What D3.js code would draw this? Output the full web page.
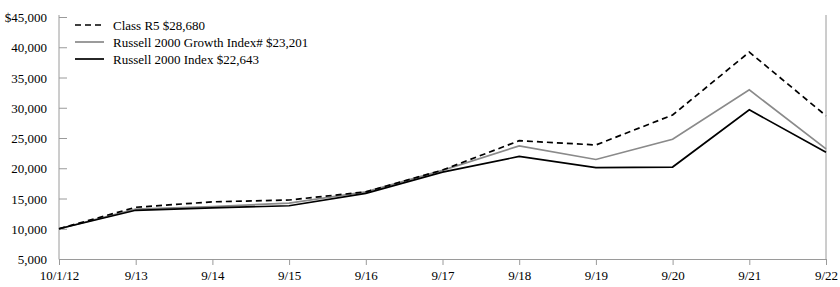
<!DOCTYPE html>
<html>
<head>
<meta charset="utf-8">
<script src="https://cdn.jsdelivr.net/npm/d3@7"></script>
<style>
  body { margin: 0; background: #fff; }
  svg text { font-family: "Liberation Serif", "Times New Roman", serif; font-size: 13px; fill: #000; }
</style>
</head>
<body>
<div id="chart"></div>
<script>
// tick labels along the bottom
var dates = ["10/1/12", "9/13", "9/14", "9/15", "9/16", "9/17", "9/18", "9/19", "9/20", "9/21", "9/22"];

// values
var classR5 = [10000, 13550, 14450, 14750, 16100, 19700, 24550, 23850, 28800, 39200, 28680];
var growth  = [10000, 13250, 13650, 14250, 16100, 19650, 23700, 21450, 24800, 32950, 23201];
var russell = [10000, 13050, 13450, 13800, 15850, 19350, 21950, 20100, 20200, 29650, 22643];

var yTicks = [5000, 10000, 15000, 20000, 25000, 30000, 35000, 40000, 45000];

var legendNames = ["Class R5 $28,680", "Russell 2000 Growth Index# $23,201", "Russell 2000 Index $22,643"];

var margin = {top: 17, right: 14, bottom: 28, left: 59},
    W = 840, H = 287,
    width = W - margin.left - margin.right,
    height = H - margin.top - margin.bottom;

var svg = d3.select("#chart").append("svg")
    .attr("width", W).attr("height", H)
  .append("g")
    .attr("transform", "translate(" + margin.left + "," + margin.top + ")");

var x = d3.scalePoint().domain(dates).range([0, width]);
var y = d3.scaleLinear().domain([5000, 45000]).range([height, 0]);

var axisCol = "#9a9a9a";
var fontFam = "Liberation Serif, Times New Roman, serif";

// y axis, ticks pointing inward
var yAxis = d3.axisRight(y).tickValues(yTicks).tickSize(8).tickSizeOuter(0)
    .tickFormat(function(d){ return (d === 45000 ? "$" : "") + d3.format(",")(d); });
var gy = svg.append("g").call(yAxis)
    .attr("font-family", fontFam).attr("font-size", 13);
gy.select(".domain").attr("stroke", axisCol).attr("d", "M0," + (height + 0.5) + "V-2");
gy.selectAll(".tick line").attr("stroke", axisCol);
gy.selectAll(".tick text").attr("x", -12).attr("text-anchor", "end").attr("dy", "0.35em");

// right border
svg.append("line")
    .attr("x1", width).attr("x2", width)
    .attr("y1", -2).attr("y2", height)
    .attr("stroke", axisCol);

// x axis
var xAxis = d3.axisBottom(x).tickSize(6).tickSizeOuter(0);
var gx = svg.append("g").attr("transform", "translate(0," + height + ")").call(xAxis)
    .attr("font-family", fontFam).attr("font-size", 13);
gx.select(".domain").attr("stroke", axisCol);
gx.selectAll(".tick line").attr("stroke", axisCol);
gx.selectAll(".tick text").attr("dy", "0.95em");

var line = d3.line()
    .x(function(d, i){ return x(dates[i]); })
    .y(function(d){ return y(d); });

var series = [
  {vals: growth,  color: "#8a8a8a", dash: null},
  {vals: russell, color: "#000",    dash: null},
  {vals: classR5, color: "#000",    dash: "6,4"}
];

series.forEach(function(s){
  svg.append("path")
    .datum(s.vals)
    .attr("d", line)
    .attr("fill", "none")
    .attr("stroke", s.color)
    .attr("stroke-width", 1.7)
    .attr("stroke-dasharray", s.dash);
});

// legend
var legStyles = [
  {color: "#000", dash: "6,4"},
  {color: "#8a8a8a", dash: null},
  {color: "#000", dash: null}
];
var leg = svg.append("g").attr("transform", "translate(16,8)");
legendNames.forEach(function(n, i){
  var row = leg.append("g").attr("transform", "translate(0," + (i * 17) + ")");
  row.append("line")
    .attr("x1", 0).attr("x2", 29)
    .attr("stroke", legStyles[i].color)
    .attr("stroke-width", 1.7)
    .attr("stroke-dasharray", legStyles[i].dash);
  row.append("text").attr("x", 38).attr("dy", "0.35em").text(n);
});
</script>
</body>
</html>
